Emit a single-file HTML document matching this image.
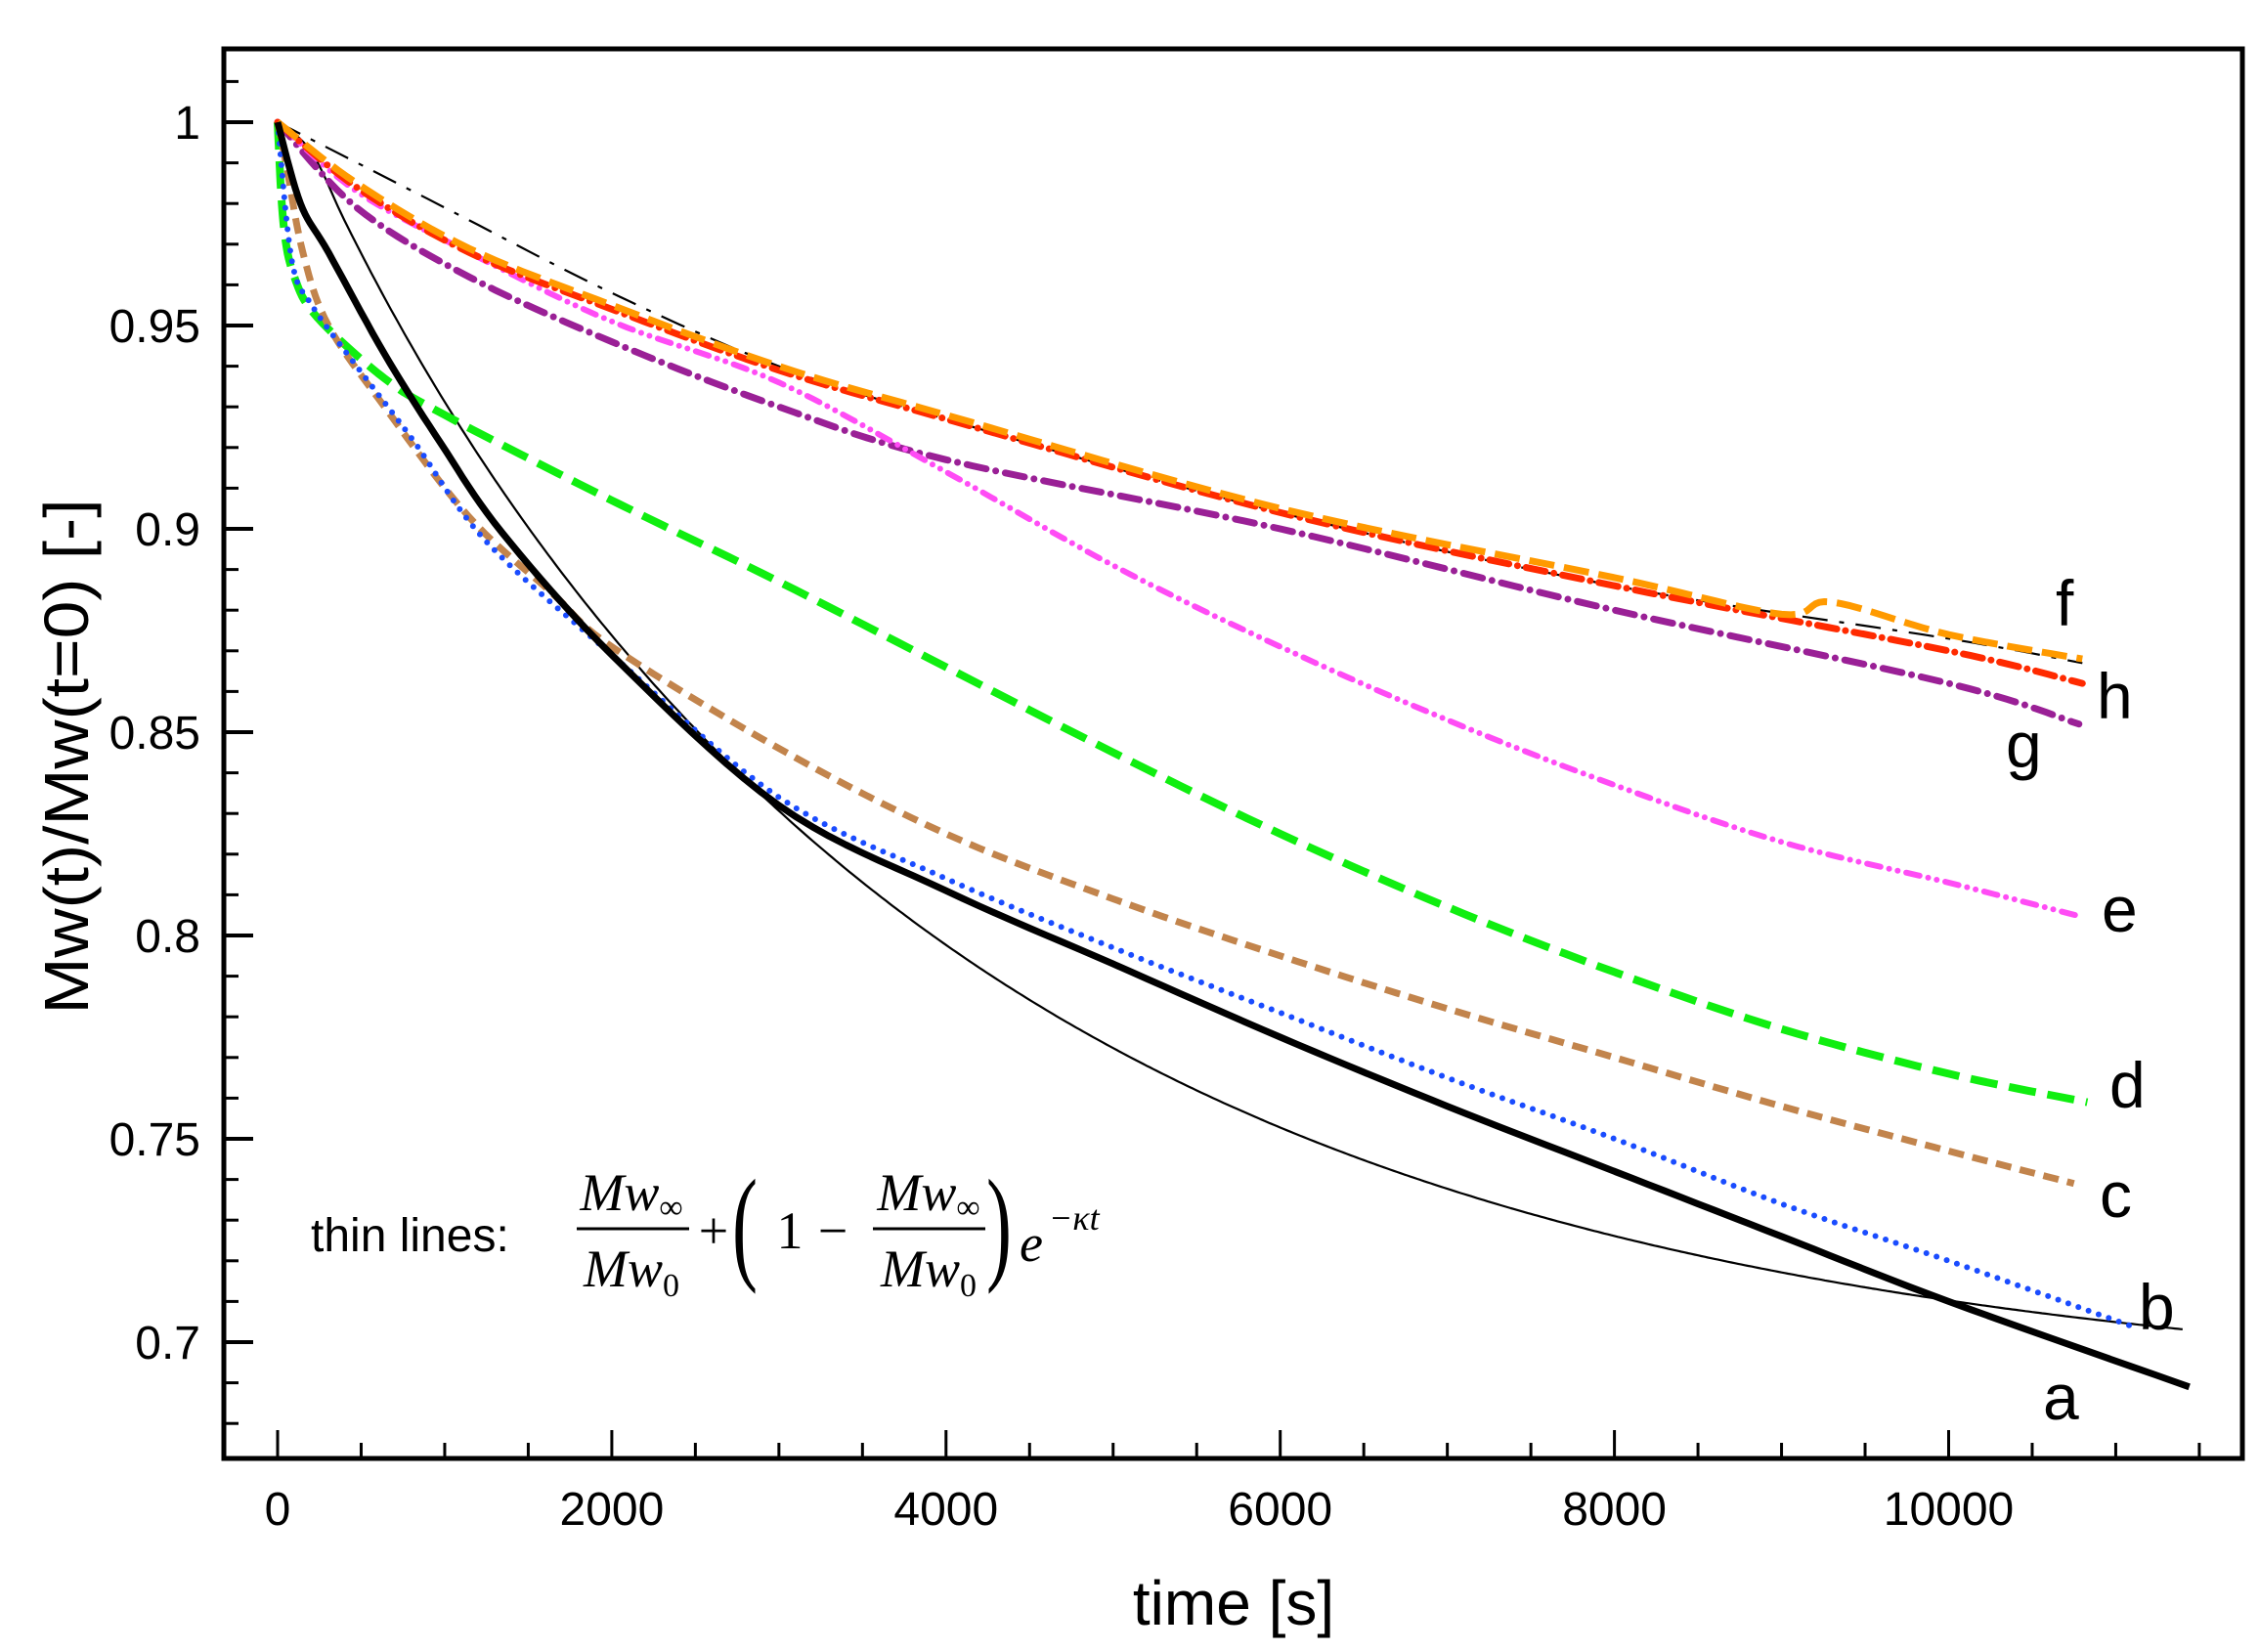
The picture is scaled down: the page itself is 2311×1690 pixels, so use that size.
<!DOCTYPE html>
<html><head><meta charset="utf-8"><style>html,body{margin:0;padding:0;background:#fff}svg{display:block}</style></head>
<body>
<svg id="s" xmlns="http://www.w3.org/2000/svg" width="2311" height="1690" viewBox="0 0 2311 1690">
<rect width="2311" height="1690" fill="#fff"/>
<g id="curves"></g>
<rect x="229" y="50" width="2065" height="1442" fill="none" stroke="#000" stroke-width="5"/>
<g id="ticks" stroke="#000"></g>
<g font-family="Liberation Sans, sans-serif" font-size="48" fill="#000">
<g text-anchor="end" id="ylab"></g>
<g text-anchor="middle" id="xlab"></g>
<text x="1262" y="1662" text-anchor="middle" font-size="64">time [s]</text>
<text transform="translate(90,774) rotate(-90)" text-anchor="middle" font-size="64" textLength="527" lengthAdjust="spacingAndGlyphs">Mw(t)/Mw(t=0)  [-]</text>
<g font-size="66">
<text x="2103" y="640">f</text>
<text x="2145" y="735">h</text>
<text x="2052" y="785">g</text>
<text x="2150" y="953">e</text>
<text x="2158" y="1133">d</text>
<text x="2148" y="1245">c</text>
<text x="2188" y="1360">b</text>
<text x="2090" y="1452">a</text>
</g>
<text x="318" y="1280" font-size="48">thin lines:</text>
</g>
<g font-family="Liberation Serif, serif" font-style="italic" font-size="54" fill="#000">
<text x="646" y="1238" text-anchor="middle">Mw<tspan font-size="34" dy="8" font-style="normal">∞</tspan></text>
<line x1="590" y1="1257" x2="705" y2="1257" stroke="#000" stroke-width="3"/>
<text x="646" y="1316" text-anchor="middle">Mw<tspan font-size="34" dy="10" font-style="normal">0</tspan></text>
<text x="730" y="1277" text-anchor="middle" font-style="normal">+</text>
<text x="762" y="1296" text-anchor="middle" font-style="normal" font-size="130" transform="translate(762,1296) scale(0.6,1) translate(-762,-1296)">(</text>
<text x="808" y="1277" text-anchor="middle" font-style="normal">1</text>
<text x="852" y="1277" text-anchor="middle" font-style="normal">−</text>
<text x="950" y="1238" text-anchor="middle">Mw<tspan font-size="34" dy="8" font-style="normal">∞</tspan></text>
<line x1="893" y1="1257" x2="1008" y2="1257" stroke="#000" stroke-width="3"/>
<text x="950" y="1316" text-anchor="middle">Mw<tspan font-size="34" dy="10" font-style="normal">0</tspan></text>
<text x="1022" y="1296" text-anchor="middle" font-style="normal" font-size="130" transform="translate(1022,1296) scale(0.6,1) translate(-1022,-1296)">)</text>
<text x="1043" y="1290">e</text>
<text x="1073" y="1258" font-size="36">−κt</text>
</g>
</svg>
<script>
var NS="http://www.w3.org/2000/svg";
function X(t){return 284+0.17095*t}
function Y(v){return 125+4160*(1-v)}
function el(p,n,a){var e=document.createElementNS(NS,n);for(var k in a)e.setAttribute(k,a[k]);p.appendChild(e);return e}
var tk=document.getElementById('ticks');
for(var i=0;i<=35;i++){var v=0.67+i*0.01;v=Math.round(v*100)/100;var y=Y(v);if(y<52||y>1490)continue;var maj=Math.abs(v*20-Math.round(v*20))<1e-6;
el(tk,'line',{x1:229,y1:y,x2:maj?259:244,y2:y,'stroke-width':maj?4:3});
if(maj){var t=el(document.getElementById('ylab'),'text',{x:205,y:y+17});t.textContent=(v==1?'1':v.toFixed(2).replace(/0$/,''));}}
for(var t=0;t<=11500;t+=500){var x=X(t),maj=t%2000==0;
el(tk,'line',{x1:x,y1:1490,x2:x,y2:maj?1463:1476,'stroke-width':3});
if(maj){var e=el(document.getElementById('xlab'),'text',{x:x,y:1560});e.textContent=t;}}
function path(pts){var P=pts.map(function(p){return [X(p[0]),Y(p[1])]});var d='M'+P[0][0].toFixed(1)+','+P[0][1].toFixed(1);
for(var i=0;i<P.length-1;i++){var p0=P[Math.max(0,i-1)],p1=P[i],p2=P[i+1],p3=P[Math.min(P.length-1,i+2)];
for(var s=1;s<=10;s++){var u=s/10,u2=u*u,u3=u2*u;
var x=0.5*((2*p1[0])+(-p0[0]+p2[0])*u+(2*p0[0]-5*p1[0]+4*p2[0]-p3[0])*u2+(-p0[0]+3*p1[0]-3*p2[0]+p3[0])*u3);
var y=0.5*((2*p1[1])+(-p0[1]+p2[1])*u+(2*p0[1]-5*p1[1]+4*p2[1]-p3[1])*u2+(-p0[1]+3*p1[1]-3*p2[1]+p3[1])*u3);
d+=' L'+x.toFixed(1)+','+y.toFixed(1);}}return d}
var C=document.getElementById('curves');
function add(pts,col,w,dash,cap){el(C,'path',{d:path(pts),fill:'none',stroke:col,'stroke-width':w,'stroke-dasharray':dash||'none','stroke-linecap':cap||'butt','stroke-linejoin':'round'})}
var fit=[];for(var t=0;t<=11440;t+=200){fit.push([t,0.687+0.313*Math.exp(-0.00026*t)+0.012*Math.exp(-t/700)*(1-Math.exp(-t/60))])}
var fd=[[0,1],[1000,0.979],[2000,0.958],[3000,0.940],[4000,0.927],[6000,0.904],[8000,0.886],[10000,0.873],[10800,0.867]];
var f=[[0,1],[473,0.985],[1144,0.969],[2000,0.955],[3000,0.940],[4000,0.928],[6000,0.905],[8000,0.888],[9000,0.879],[9300,0.882],[10000,0.874],[10800,0.868]];
var h=[[0,1],[473,0.984],[1144,0.968],[2000,0.954],[3000,0.939],[4000,0.927],[6000,0.904],[8000,0.886],[10000,0.870],[10800,0.862]];
var g=[[0,1],[473,0.979],[1144,0.962],[2000,0.946],[3000,0.930],[4000,0.917],[6000,0.900],[8000,0.880],[10000,0.862],[10780,0.852]];
var e=[[0,1],[473,0.983],[1144,0.968],[2000,0.951],[3000,0.936],[4000,0.914],[5000,0.891],[6000,0.871],[7000,0.853],[8000,0.837],[9000,0.823],[10000,0.813],[10760,0.805]];
var d=[[0,1],[35,0.975],[100,0.962],[237,0.952],[640,0.937],[1000,0.928],[2000,0.907],[3000,0.887],[4000,0.866],[5000,0.845],[6000,0.825],[7000,0.807],[8000,0.791],[9000,0.777],[10000,0.766],[10830,0.759]];
var c=[[0,1],[50,0.99],[151,0.968],[304,0.950],[640,0.930],[1144,0.903],[1648,0.884],[2000,0.871],[3000,0.846],[4000,0.825],[5000,0.809],[6000,0.795],[7000,0.782],[8000,0.770],[9000,0.758],[10000,0.747],[10750,0.739]];
var b=[[0,1],[85,0.966],[204,0.955],[473,0.940],[807,0.922],[1246,0.897],[2000,0.869],[3000,0.834],[4000,0.814],[5000,0.797],[6000,0.781],[7000,0.765],[8000,0.750],[9000,0.734],[10000,0.720],[11090,0.704]];
var a=[[0,1],[137,0.980],[304,0.968],[640,0.943],[977,0.921],[1345,0.899],[2000,0.869],[3000,0.832],[4000,0.811],[5000,0.793],[6000,0.775],[7000,0.758],[8000,0.742],[9000,0.726],[10000,0.710],[11440,0.689]];
add(fit,'#000',2.2);
add(fd,'#000',2.2,'26 12 5 12');
add(g,'#9a2096',7,'20 10 0 10','round');
add(e,'#ff4cf5',6,'14 9 0 9 0 9','round');
add(d,'#10ee10',8,'28 12');
add(c,'#c2844c',7,'16 9');
add(b,'#1a4cff',6,'0 11','round');
add(h,'#ff2a00',7,'20 9 0 9','round');
add(f,'#ff9a00',7,'26 10');
add(a,'#000',7);
</script>
</body></html>
